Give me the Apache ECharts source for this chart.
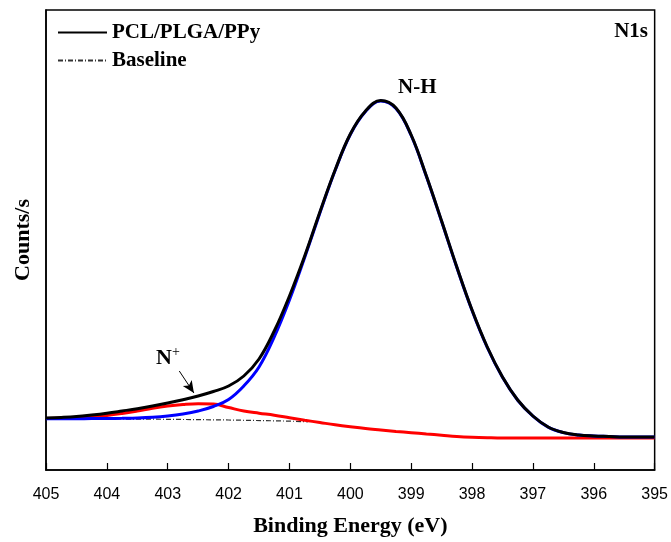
<!DOCTYPE html>
<html>
<head>
<meta charset="utf-8">
<script src="https://cdn.jsdelivr.net/npm/echarts@6/dist/echarts.min.js"></script>
<style>html,body{margin:0;padding:0;background:#fff}#c{width:671px;height:542px}</style>
</head>
<body>
<div id="c"></div>
<script>
// Binding energies (eV)
var energy = [405, 404.75, 404.5, 404.25, 404, 403.75, 403.5, 403.25, 403, 402.75, 402.5, 402.25, 402, 401.75, 401.5, 401.25, 401, 400.75, 400.5, 400.25, 400, 399.75, 399.5, 399.25, 399, 398.75, 398.5, 398.25, 398, 397.75, 397.5, 397.25, 397, 396.75, 396.5, 396.25, 396, 395.75, 395.5, 395.25, 395];
// Total envelope PCL/PLGA/PPy (counts, arbitrary)
var totalCounts = [52, 52.6, 53.5, 55, 56.8, 59, 61.3, 64, 67, 70.3, 74, 78.5, 84, 94, 111, 139, 174, 214, 258, 300, 336, 359, 369.5, 362, 335, 294, 249, 203, 160, 123, 93, 70, 54, 43, 37.5, 35, 34, 33.5, 33, 33, 33];
// N-H component (blue)
var nhCounts = [51.3, 51.3, 51.3, 51.4, 51.5, 51.7, 52, 52.7, 54, 56, 59, 63.5, 70.5, 84, 103, 133, 170, 212.5, 257, 299.5, 335.5, 358.5, 369, 361.5, 334.5, 293.5, 248.5, 202.5, 159.5, 122.5, 92.7, 69.8, 53.9, 42.9, 37.4, 35, 34, 33.5, 33, 33, 33];
// N+ component (red)
var npCounts = [51.5, 52, 52.5, 53.3, 54.5, 56.5, 59, 61.8, 64, 65.5, 66.3, 66, 62.5, 59, 56.8, 54.8, 52.3, 49.8, 47.5, 45.2, 43.2, 41.4, 40, 38.6, 37.3, 36, 34.8, 33.6, 32.8, 32.3, 32, 32, 32, 32, 32, 32, 32, 32, 32, 32, 32];
// Baseline (visible part)
var baseEnergy = [405, 404, 403, 402, 401, 400.7];
var baseCounts = [51.3, 51.1, 50.7, 50, 48.9, 48.2];
// Axis ticks
var xTicks = [405, 404, 403, 402, 401, 400, 399, 398, 397, 396, 395];
// Annotation arrow for N+ (energy, counts)
var arrowFrom = [402.81, 99];
var arrowTo = [402.57, 77];

function zip(xs, ys) { return xs.map(function (x, i) { return [x, ys[i]]; }); }

var serif = "'Liberation Serif', 'Times New Roman', serif";
var chart = echarts.init(document.getElementById('c'), null, {renderer: 'canvas'});
var option = {
  animation: false,
  backgroundColor: '#fff',
  grid: {left: 46, right: 14, top: 10, bottom: 72, show: true, borderColor: '#000', borderWidth: 1.5, backgroundColor: 'transparent'},
  legend: {
    orient: 'vertical', left: 52, top: 17, itemWidth: 49, itemHeight: 14, itemGap: 7,
    data: ['PCL/PLGA/PPy', 'Baseline'],
    itemStyle: {opacity: 0},
    textStyle: {fontFamily: serif, fontWeight: 'bold', fontSize: 21, color: '#000'}
  },
  xAxis: {
    type: 'value', min: 395, max: 405, interval: 1, inverse: true,
    axisLine: {lineStyle: {color: '#000', width: 1.5}},
    axisTick: {inside: true, length: 7, lineStyle: {color: '#000', width: 1.2}},
    splitLine: {show: false},
    axisLabel: {fontFamily: "'Liberation Sans', Arial, sans-serif", fontSize: 16, color: '#000', margin: 17,
      formatter: function (v) { return xTicks.indexOf(v) >= 0 ? String(v) : ''; }},
    name: 'Binding Energy (eV)', nameLocation: 'middle', nameGap: 45,
    nameTextStyle: {fontFamily: serif, fontWeight: 'bold', fontSize: 22, color: '#000'}
  },
  yAxis: {
    type: 'value', min: 0, max: 460,
    axisLine: {show: true, lineStyle: {color: '#000', width: 1.5}},
    axisTick: {show: false}, axisLabel: {show: false}, splitLine: {show: false},
    name: 'Counts/s', nameLocation: 'middle', nameGap: 12,
    nameTextStyle: {fontFamily: serif, fontWeight: 'bold', fontSize: 22, color: '#000'}
  },
  series: [
    {name: 'Baseline', type: 'line', data: zip(baseEnergy, baseCounts), symbol: 'none', z: 1,
      lineStyle: {color: '#333', width: 1.2, type: [5, 2, 1, 2]}, itemStyle: {color: '#333'}},
    {name: 'N+', type: 'line', data: zip(energy, npCounts), symbol: 'none', smooth: 0.4, z: 2,
      lineStyle: {color: '#ff0000', width: 3}, itemStyle: {color: '#ff0000'}},
    {name: 'N-H', type: 'line', data: zip(energy, nhCounts), symbol: 'none', smooth: 0.4, z: 3,
      lineStyle: {color: '#0000ff', width: 3}, itemStyle: {color: '#0000ff'}},
    {name: 'PCL/PLGA/PPy', type: 'line', data: zip(energy, totalCounts), symbol: 'none', smooth: 0.4, z: 4,
      lineStyle: {color: '#000', width: 3}, itemStyle: {color: '#000'},
      markLine: {
        silent: true, symbol: ['none', 'arrow'], symbolSize: [8, 12],
        lineStyle: {color: '#000', width: 1, type: 'solid'}, label: {show: false},
        data: [[{coord: arrowFrom}, {coord: arrowTo}]]
      }}
  ],
  graphic: [
    {type: 'text', right: 23, top: 21, style: {text: 'N1s', font: 'bold 21px ' + serif, fill: '#000'}},
    {type: 'text', left: 398, top: 77, style: {text: 'N-H', font: 'bold 21px ' + serif, fill: '#000'}},
    {type: 'text', left: 156, top: 345, style: {
      rich: {n: {fontFamily: serif, fontSize: 22, fontWeight: 'bold', color: '#000'},
             p: {fontFamily: serif, fontSize: 14, color: '#000', verticalAlign: 'top', padding: [0, 0, 12, 0]}},
      text: '{n|N}{p|+}'}}
  ]
};
chart.setOption(option);
</script>
</body>
</html>
